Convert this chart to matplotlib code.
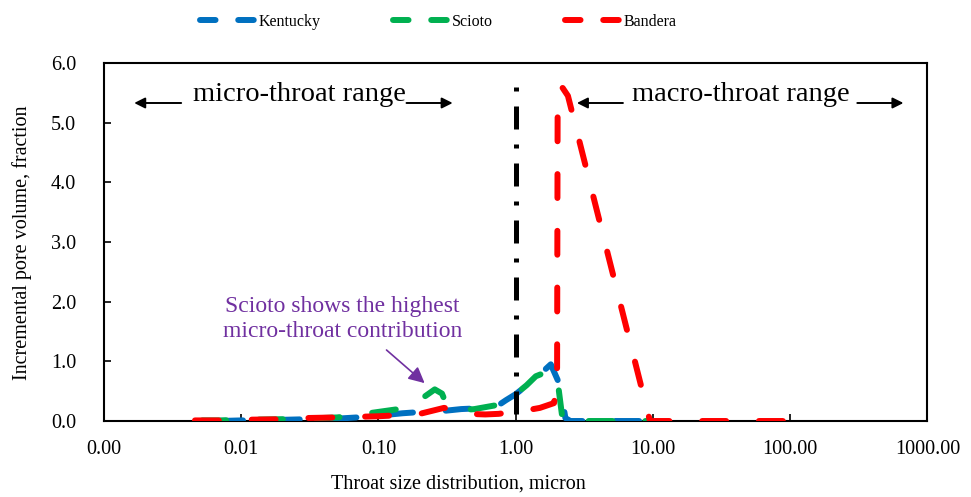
import numpy as np
import matplotlib
matplotlib.use('Agg')
from matplotlib import pyplot as plt
from matplotlib.lines import Line2D
from matplotlib.ticker import FixedLocator, FuncFormatter

plt.rcParams['font.family'] = ['Liberation Serif', 'DejaVu Serif']

# throat size (micron) and incremental pore volume
kentucky_x = [0.0069, 0.01, 0.02, 0.03, 0.05, 0.07, 0.1, 0.15, 0.2, 0.3, 0.4, 0.5,
              0.7, 0.85, 1.0, 1.4, 1.8, 2.1, 2.3, 2.5, 9.0]
kentucky_y = [0.0, 0.01, 0.02, 0.03, 0.04, 0.06, 0.09, 0.13, 0.15, 0.17, 0.2, 0.21,
              0.22, 0.35, 0.45, 0.72, 0.95, 0.6, 0.05, 0.0, 0.0]

scioto_x = [0.0052, 0.007, 0.01, 0.02, 0.03, 0.05, 0.07, 0.085, 0.14, 0.17, 0.22,
            0.257, 0.29, 0.31, 0.4, 0.5, 0.7, 0.9, 1.0, 1.2, 1.4, 1.8, 2.05, 2.2, 9.1]
scioto_y = [0.01, 0.01, 0.02, 0.03, 0.04, 0.06, 0.1, 0.13, 0.2, 0.25, 0.42,
            0.53, 0.46, 0.3, 0.18, 0.2, 0.26, 0.35, 0.45, 0.6, 0.75, 0.85, 0.55, 0.0, 0.0]

bandera_x = [0.0046, 0.007, 0.01, 0.02, 0.03, 0.05, 0.07, 0.1, 0.15, 0.2, 0.3, 0.35,
             0.45, 0.6, 0.75, 1.2, 1.5, 1.9, 2.0, 2.02, 2.15, 2.2, 2.4, 9.5, 150.0]
bandera_y = [0.01, 0.01, 0.02, 0.03, 0.05, 0.06, 0.07, 0.08, 0.1, 0.12, 0.22, 0.2,
             0.12, 0.11, 0.12, 0.18, 0.22, 0.3, 0.6, 5.45, 5.6, 5.58, 5.45, 0.0, 0.0]

divider_x = 1.0
divider_top = 5.6

x_ticks = [0.001, 0.01, 0.1, 1, 10, 100, 1000]
y_ticks = [0, 1, 2, 3, 4, 5, 6]

BLUE = '#0070C0'
GREEN = '#00B050'
RED = '#FF0000'
PURPLE = '#7030A0'
LW = 4.3
DASH = (4.0, 5.5)

fig = plt.figure(figsize=(9.71, 4.97), dpi=100)
ax = fig.add_axes([0.1071, 0.1529, 0.8481, 0.7203])

series = [('Kentucky', kentucky_x, kentucky_y, BLUE),
          ('Scioto', scioto_x, scioto_y, GREEN),
          ('Bandera', bandera_x, bandera_y, RED)]
for name, xs, ys, col in series:
    ax.plot(xs, ys, color=col, lw=LW, dashes=DASH, dash_capstyle='round',
            solid_capstyle='round', zorder=3)

# micro / macro divider, drawn from the top down so it starts with a dot
ax.plot([divider_x, divider_x], [divider_top, 0], color='black', lw=3.6,
        dashes=(0.8, 3.0, 4.6, 3.0), dash_capstyle='butt', zorder=4)

ax.set_xscale('log')
ax.set_xlim(0.001, 1000)
ax.set_ylim(0, 6)
ax.xaxis.set_major_locator(FixedLocator(x_ticks))
ax.xaxis.set_minor_locator(FixedLocator([]))
ax.xaxis.set_major_formatter(FuncFormatter(lambda v, p: '%.2f' % v))
ax.set_yticks(y_ticks)
ax.yaxis.set_major_formatter(FuncFormatter(lambda v, p: '%.1f' % v))
ax.tick_params(axis='both', direction='in', length=5, width=1.2, labelsize=14.5,
               colors='black')
ax.tick_params(axis='x', pad=14)
ax.tick_params(axis='y', pad=20)
for sp in ax.spines.values():
    sp.set_linewidth(1.5)
    sp.set_color('black')

fig.text(458 / 971, 1 - 484 / 497, 'Throat size distribution, micron',
         ha='center', va='center', fontsize=14.5)
fig.text(22 / 971, 1 - 243 / 497, 'Incremental pore volume, fraction',
         ha='center', va='center', rotation=90, fontsize=14.5)

# range labels with arrows
arr = dict(arrowstyle='-|>', color='black', lw=1.4, mutation_scale=16,
           shrinkA=0, shrinkB=0)
ax.text(0.0265, 5.48, 'micro-throat range', ha='center', va='center', fontsize=20.5)
ax.annotate('', xy=(0.00166, 5.33), xytext=(0.00365, 5.33), arrowprops=arr)
ax.annotate('', xy=(0.347, 5.33), xytext=(0.16, 5.33), arrowprops=arr)
ax.text(43.9, 5.48, 'macro-throat range', ha='center', va='center', fontsize=20.5)
ax.annotate('', xy=(2.79, 5.33), xytext=(6.04, 5.33), arrowprops=arr)
ax.annotate('', xy=(668, 5.33), xytext=(308, 5.33), arrowprops=arr)

ax.text(0.0546, 1.71, 'Scioto shows the highest\nmicro-throat contribution',
        ha='center', va='center', fontsize=17, color=PURPLE, linespacing=1.2)
ax.annotate('', xy=(0.2168, 0.635), xytext=(0.1144, 1.19),
            arrowprops=dict(arrowstyle='-|>', color=PURPLE, lw=1.2,
                            mutation_scale=24, shrinkA=0, shrinkB=0))

handles = [Line2D([], [], color=c, lw=LW, dashes=(2.6, 3.8), dash_capstyle='round')
           for _, _, _, c in series]
fig.legend(handles, [s[0] for s in series], loc='center',
           bbox_to_anchor=(0.4516, 1 - 22 / 497), ncol=3, frameon=False,
           fontsize=11.5, handlelength=3.4, handletextpad=0.3, columnspacing=4.5)

fig.savefig('out.png', dpi=100)
